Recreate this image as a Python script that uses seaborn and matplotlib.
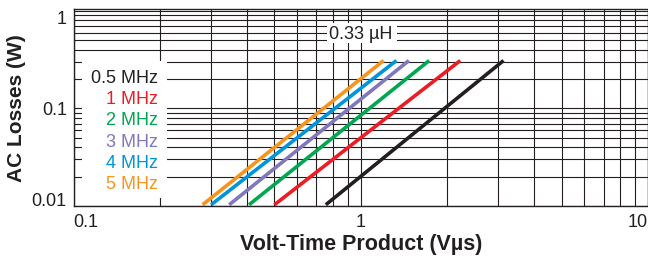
import numpy as np
import pandas as pd
import matplotlib
matplotlib.use("Agg")
import matplotlib.pyplot as plt
from matplotlib.patches import Rectangle
import seaborn as sns

# ---- data ----
freqs = ["0.5 MHz", "1 MHz", "2 MHz", "3 MHz", "4 MHz", "5 MHz"]
colors = ["#231f20", "#ed1c24", "#00a651", "#8177bd", "#0095da", "#f7941d"]
vt_start = [0.755, 0.50, 0.408, 0.348, 0.301, 0.281]   # V·µs at lower end
vt_end = [3.14, 2.22, 1.73, 1.47, 1.33, 1.20]          # V·µs at upper end
loss_start = [0.0103] * 6                              # W
loss_end = [0.31] * 6                                  # W
x_ticks = [0.1, 1, 10]
x_ticklabels = ["0.1", "1", "10"]
y_ticks = [0.01, 0.1, 1]
y_ticklabels = ["0.01", "0.1", "1"]
inductance_label = "0.33 µH"

rows = []
for f, xs, xe, ys, ye in zip(freqs, vt_start, vt_end, loss_start, loss_end):
    rows.append({"freq": f, "vt": xs, "loss": ys})
    rows.append({"freq": f, "vt": xe, "loss": ye})
df = pd.DataFrame(rows)

sns.set_style("white")
plt.rcParams["font.family"] = ["Liberation Sans", "DejaVu Sans"]

W, H = 648, 257
fig = plt.figure(figsize=(W / 100, H / 100), dpi=100)
left, right, top, bottom = 73.7, 648, 9.3, 206
ax = fig.add_axes([left / W, (H - bottom) / H, (right - left) / W, (bottom - top) / H])
ax.set_xscale("log")
ax.set_yscale("log")
ax.set_xlim(0.1, 10)
ax.set_ylim(0.01, 1.04)

ax.set_axisbelow(True)
ax.grid(True, which="both", color="#231f20", linewidth=0.8)

sns.lineplot(data=df, x="vt", y="loss", hue="freq", hue_order=freqs,
             palette=dict(zip(freqs, colors)), linewidth=2.6, legend=False,
             estimator=None, sort=False, ax=ax, zorder=3,
             solid_capstyle="butt")

for s in ax.spines.values():
    s.set_color("#231f20")
    s.set_linewidth(1.0)
    s.set_zorder(4)

ax.set_xticks(x_ticks)
ax.set_xticklabels(x_ticklabels)
ax.set_yticks(y_ticks)
ax.set_yticklabels(y_ticklabels)
ax.tick_params(which="both", length=0, labelsize=13, colors="#231f20")
ax.tick_params(axis="x", pad=6)
ax.tick_params(axis="y", pad=5)
ax.xaxis.set_minor_formatter(matplotlib.ticker.NullFormatter())
ax.yaxis.set_minor_formatter(matplotlib.ticker.NullFormatter())
xl = ax.get_xticklabels()
xl[0].set_horizontalalignment("left")
xl[-1].set_horizontalalignment("right")
yl = ax.get_yticklabels()
yl[0].set_verticalalignment("baseline")
yl[-1].set_verticalalignment("top")

ax.set_xlabel("Volt-Time Product (Vµs)", fontsize=15.5, fontweight="bold",
              color="#231f20", labelpad=2)
ax.set_ylabel("AC Losses (W)", fontsize=15, fontweight="bold",
              color="#231f20", labelpad=4)

# legend area (white box with coloured text)
ax.add_patch(Rectangle((0.0139, 0.0407), 0.148, 0.6965, transform=ax.transAxes,
                       facecolor="white", edgecolor="none", zorder=1.5))
for i, (f, c) in enumerate(zip(freqs, colors)):
    ax.text(0.1468, 0.648 - i * 0.1078, f, transform=ax.transAxes,
            ha="right", va="center", fontsize=13, color=c, zorder=5)

# inductance label
ax.add_patch(Rectangle((0.441, 0.829), 0.1219, 0.1017, transform=ax.transAxes,
                       facecolor="white", edgecolor="none", zorder=1.5))
ax.text(0.499, 0.874, inductance_label, transform=ax.transAxes,
        ha="center", va="center", fontsize=13, color="#231f20", zorder=5)

fig.savefig("out.png", dpi=100)
